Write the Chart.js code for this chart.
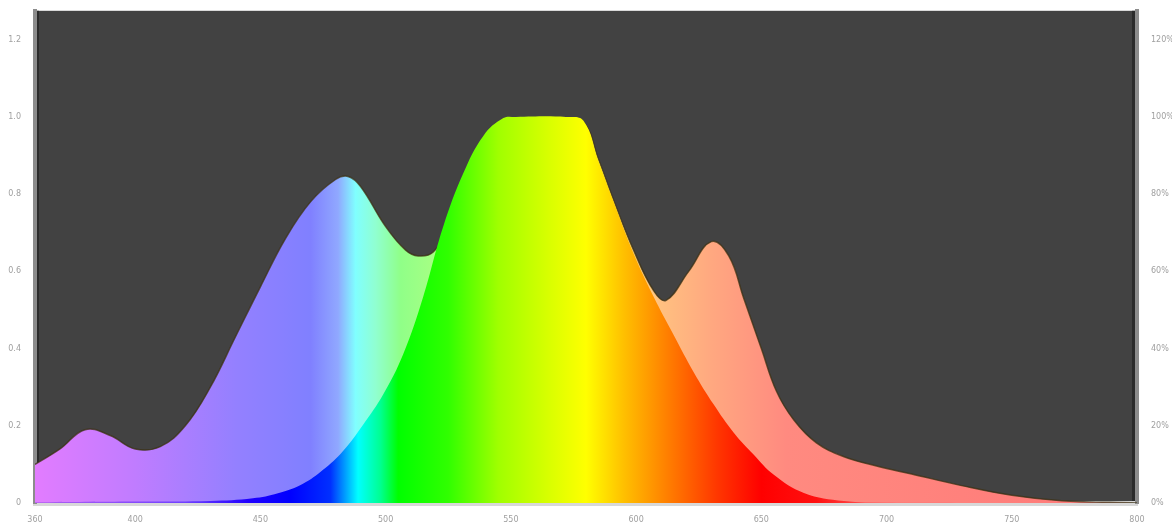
<!DOCTYPE html>
<html>
<head>
    <title>Spectrum</title>
    <script src="https://cdn.jsdelivr.net/npm/chart.js"></script>
    <style>
        body { margin: 0; background: #fff; }
        #wrap { width: 1172px; height: 526px; }
    </style>
</head>
<body>
    <div id="wrap"><canvas id="spectrumChart"></canvas></div>

    <script>
        // light source spectrum (nm, relative)
        const lampNm = [360, 370, 380, 390, 400, 410, 420, 430, 440, 450, 460, 470, 480, 485, 490, 500, 508, 513, 519,
                        530, 540, 550, 560, 570, 579, 585, 591, 599, 607, 612, 621, 630, 637, 643, 650, 656, 663, 672, 683, 696, 710, 730, 750, 770, 800];
        const lampVal = [0.10, 0.14, 0.19, 0.175, 0.14, 0.146, 0.20, 0.30, 0.43, 0.56, 0.685, 0.78, 0.838, 0.846, 0.82, 0.716, 0.655, 0.64, 0.65,
                         0.75, 0.88, 0.95, 0.97, 0.985, 0.985, 0.89, 0.785, 0.655, 0.55, 0.525, 0.60, 0.677, 0.64, 0.53, 0.40, 0.29, 0.215, 0.156, 0.12, 0.096, 0.075, 0.045, 0.02, 0.006, 0];

        // eye sensitivity curve
        const eyeNm = [360, 400, 430, 447, 457, 467, 475, 483, 491, 499, 507, 515, 523, 531, 539, 547, 552, 572,
                       579, 585, 591, 599, 607, 615, 623, 631, 639, 647, 655, 667, 683, 700, 730, 800];
        const eyeVal = [0.002, 0.004, 0.005, 0.012, 0.025, 0.05, 0.086, 0.135, 0.203, 0.281, 0.385, 0.534, 0.716, 0.854, 0.951, 0.997, 1.0, 1.0,
                        0.99, 0.885, 0.781, 0.646, 0.534, 0.435, 0.339, 0.255, 0.182, 0.125, 0.073, 0.026, 0.005, 0.001, 0, 0];

        const xTicks = [360, 400, 450, 500, 550, 600, 650, 700, 750, 800];
        const yTicks = [0, 0.2, 0.4, 0.6, 0.8, 1.0, 1.2];

        const eyeStops = [[360, '#b060f0'], [420, '#7040ff'], [445, '#2000ff'], [462, '#0000ff'], [478, '#0030ff'],
                          [489, '#00ffff'], [498, '#00ff90'], [505, '#00ff00'], [525, '#30ff00'], [545, '#a0ff00'],
                          [565, '#d8ff00'], [580, '#ffff00'], [595, '#ffc000'], [610, '#ff8800'], [632, '#ff3800'],
                          [650, '#ff0000'], [672, '#ff1010'], [700, '#ff6a6a'], [800, '#ff7070']];
        const lampStops = [[360, '#e27cff'], [400, '#c07cff'], [440, '#9480ff'], [470, '#8080ff'], [481, '#90a8ff'],
                           [488, '#80ffff'], [496, '#90ffd0'], [506, '#90ff88'], [530, '#b8ff80'], [580, '#ffff80'],
                           [610, '#ffc080'], [630, '#ffa880'], [660, '#ff8a80'], [800, '#ff7878']];

        function pairs(xs, ys) {
            return xs.map((x, i) => ({ x: x, y: ys[i] }));
        }

        function gradient(stops) {
            return function (context) {
                const chart = context.chart;
                if (!chart.chartArea) return null;
                const xs = chart.scales.x;
                const g = chart.ctx.createLinearGradient(xs.left, 0, xs.right, 0);
                stops.forEach(s => {
                    const t = (s[0] - xs.min) / (xs.max - xs.min);
                    g.addColorStop(Math.min(1, Math.max(0, t)), s[1]);
                });
                return g;
            };
        }

        const plotBg = {
            id: 'plotBg',
            beforeDraw(chart) {
                const { ctx, chartArea: a } = chart;
                ctx.save();
                ctx.fillStyle = '#424242';
                ctx.fillRect(a.left, a.top, a.right - a.left, a.bottom - a.top);
                ctx.fillStyle = '#2b2b2b';
                ctx.fillRect(a.left, a.top, 4, a.bottom - a.top);
                ctx.fillRect(a.right - 5, a.top, 5, a.bottom - a.top);
                ctx.restore();
            }
        };

        const ctx = document.getElementById('spectrumChart').getContext('2d');
        const spectrumChart = new Chart(ctx, {
            type: 'line',
            data: {
                datasets: [{
                    label: 'Eye',
                    data: pairs(eyeNm, eyeVal),
                    backgroundColor: gradient(eyeStops),
                    borderColor: 'rgba(0,0,0,0)',
                    borderWidth: 0,
                    fill: 'origin',
                    tension: 0.4,
                    pointRadius: 0,
                    order: 1
                }, {
                    label: 'Lamp',
                    data: pairs(lampNm, lampVal),
                    backgroundColor: gradient(lampStops),
                    borderColor: 'rgba(60,50,20,0.75)',
                    borderWidth: 1.5,
                    fill: 'origin',
                    tension: 0.4,
                    pointRadius: 0,
                    order: 2
                }]
            },
            options: {
                responsive: true,
                maintainAspectRatio: false,
                animation: false,
                layout: { padding: { top: 10, left: 0, right: 0, bottom: 0 } },
                plugins: { legend: { display: false }, tooltip: { enabled: false } },
                scales: {
                    x: {
                        type: 'linear',
                        min: 360,
                        max: 800,
                        afterBuildTicks: axis => { axis.ticks = xTicks.map(v => ({ value: v })); },
                        afterFit: axis => { axis.height = 23; },
                        grid: { display: false },
                        border: { color: '#d8d8d8', width: 5 },
                        ticks: { color: '#a0a0a0', font: { family: 'DejaVu Sans', size: 8 }, padding: 4, maxRotation: 0 }
                    },
                    y: {
                        position: 'left',
                        min: 0,
                        max: 1.275,
                        afterBuildTicks: axis => { axis.ticks = yTicks.map(v => ({ value: v })); },
                        afterFit: axis => { axis.width = 35; },
                        grid: { display: false },
                        border: { color: '#8c8c8c', width: 4 },
                        ticks: { color: '#a0a0a0', font: { family: 'DejaVu Sans', size: 8 }, padding: 6,
                                 callback: v => v === 0 ? '0' : v.toFixed(1) }
                    },
                    y2: {
                        position: 'right',
                        min: 0,
                        max: 1.275,
                        afterBuildTicks: axis => { axis.ticks = yTicks.map(v => ({ value: v })); },
                        afterFit: axis => { axis.width = 35; },
                        grid: { display: false },
                        border: { color: '#8c8c8c', width: 4 },
                        ticks: { color: '#a0a0a0', font: { family: 'DejaVu Sans', size: 8 }, padding: 6,
                                 callback: v => Math.round(v * 100) + '%' }
                    }
                }
            },
            plugins: [plotBg]
        });
    </script>
</body>
</html>
